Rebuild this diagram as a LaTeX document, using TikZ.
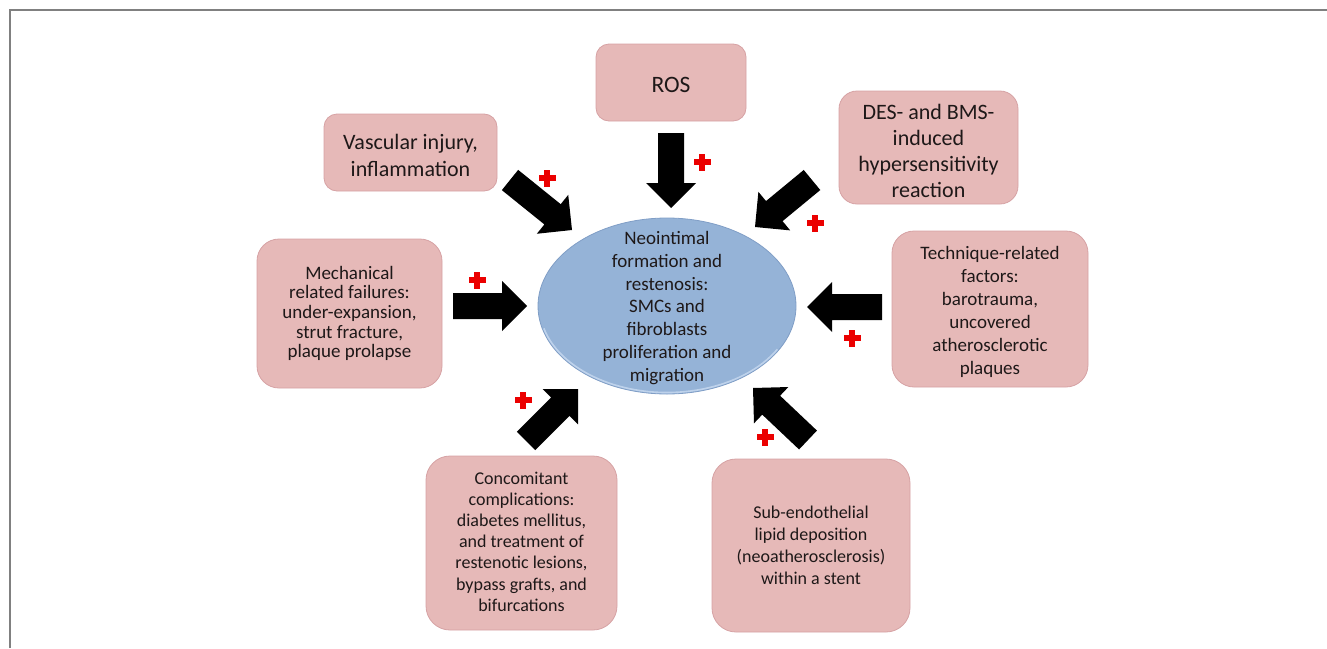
\documentclass[tikz,border=0pt]{standalone}
\usepackage{fontspec}
\setmainfont{Carlito}
\usetikzlibrary{calc}
\definecolor{boxfill}{RGB}{230,185,184}
\definecolor{boxedge}{RGB}{214,162,164}
\definecolor{ellfill}{RGB}{149,179,215}
\definecolor{elledge}{RGB}{128,158,198}
\definecolor{ellrim}{RGB}{190,210,235}
\definecolor{txt}{RGB}{30,24,24}
\definecolor{plusred}{RGB}{235,0,0}
\definecolor{framegray}{RGB}{128,128,128}
\newcommand\blockarrow[2]{%
  \coordinate (#1hb) at ($(#2)!25pt!(#1)$);
  \fill[black] ($(#1)!13pt!90:(#2)$) -- ($(#1hb)!13pt!-90:(#1)$) -- ($(#1hb)!25pt!-90:(#1)$) -- (#2)
    -- ($(#1hb)!25pt!90:(#1)$) -- ($(#1hb)!13pt!90:(#1)$) -- ($(#1)!13pt!-90:(#2)$) -- cycle;}
\begin{document}
\begin{tikzpicture}[x=1pt,y=-1pt,
  factor/.style={draw=boxedge, line width=0.8pt, fill=boxfill, rounded corners=16pt,
    text=txt, align=center, inner sep=0pt},
  plus/.pic={\fill[plusred] (-8.5,-2.6) rectangle (8.5,2.6);
             \fill[plusred] (-2.6,-8.5) rectangle (2.6,8.5);}]
\useasboundingbox (0,0) rectangle (1327,648);
\draw[framegray, line width=1.6pt] (10,648) -- (10,10) -- (1327,10);

% central ellipse
\coordinate (ec) at (667,306);
\draw[elledge, line width=0.8pt, fill=ellfill] (ec) ellipse [x radius=129, y radius=88];
\draw[ellrim, line width=1.6pt] ($(ec)+(165:127.5 and 86.5)$) arc[start angle=165, end angle=30, x radius=127.5, y radius=86.5];
\node[text=txt, align=center, font=\fontsize{19}{22.7}\selectfont] (core) at (667,308)
  {Neointimal\\formation and\\restenosis:\\SMCs and\\fibroblasts\\proliferation and\\migration};

% factor boxes
\node[factor, rounded corners=13pt, minimum width=150, minimum height=77] (ros) at (671,82.5) {};
\node[text=txt, font=\fontsize{23.5}{28}\selectfont] (rost) at (671,85) {ROS};
\node[factor, rounded corners=13pt, minimum width=173, minimum height=77] (vas) at (410.5,152.5) {};
\node[text=txt, align=center, font=\fontsize{22}{26.5}\selectfont] (vast) at (410.5,155.5) {Vascular injury,\\inflammation};
\node[factor, rounded corners=18pt, minimum width=179, minimum height=113] (des) at (928.5,147.5) {};
\node[text=txt, align=center, font=\fontsize{22}{26}\selectfont] (dest) at (928.5,151) {DES- and BMS-\\induced\\hypersensitivity\\reaction};
\node[factor, rounded corners=22pt, minimum width=185, minimum height=149, font=\fontsize{19}{19.7}\selectfont] (mech) at (349.5,313.5) {Mechanical\\related failures:\\under-expansion,\\strut fracture,\\plaque prolapse};
\node[factor, rounded corners=22pt, minimum width=196, minimum height=156] (tech) at (990,309) {};
\node[text=txt, align=center, font=\fontsize{19}{23}\selectfont] (techt) at (990,312) {Technique-related\\factors:\\barotrauma,\\uncovered\\atherosclerotic\\plaques};
\node[factor, rounded corners=24pt, minimum width=191, minimum height=174] (conc) at (521.5,543) {};
\node[text=txt, align=center, font=\fontsize{18}{21.2}\selectfont] (conct) at (521.5,541.5) {Concomitant\\complications:\\diabetes mellitus,\\and treatment of\\restenotic lesions,\\bypass grafts, and\\bifurcations};
\node[factor, rounded corners=24pt, minimum width=198, minimum height=173, font=\fontsize{18}{22.2}\selectfont] (sub) at (811,545.5) {Sub-endothelial\\lipid deposition\\(neoatherosclerosis)\\within a stent};

% arrows
\coordinate (rosT) at (671,133);  \coordinate (rosH) at (671,208);
\coordinate (vasT) at (510,180);  \coordinate (vasH) at (572,230);
\coordinate (desT) at (812,180);  \coordinate (desH) at (755,227);
\coordinate (mechT) at (453,306); \coordinate (mechH) at (527,306);
\coordinate (techT) at (882,307); \coordinate (techH) at (807,307);
\coordinate (concT) at (526,441); \coordinate (concH) at (578,389);
\coordinate (subT) at (808,440);  \coordinate (subH) at (753,388);
\blockarrow{rosT}{rosH}
\blockarrow{vasT}{vasH}
\blockarrow{desT}{desH}
\blockarrow{mechT}{mechH}
\blockarrow{techT}{techH}
\blockarrow{concT}{concH}
\blockarrow{subT}{subH}

% plus signs
\pic (p1) at (702,162) {plus};
\pic (p2) at (547,178) {plus};
\pic (p3) at (815,223) {plus};
\pic (p4) at (477,280) {plus};
\pic (p5) at (852,338) {plus};
\pic (p6) at (523,400) {plus};
\pic (p7) at (765,437) {plus};
\end{tikzpicture}
\end{document}
